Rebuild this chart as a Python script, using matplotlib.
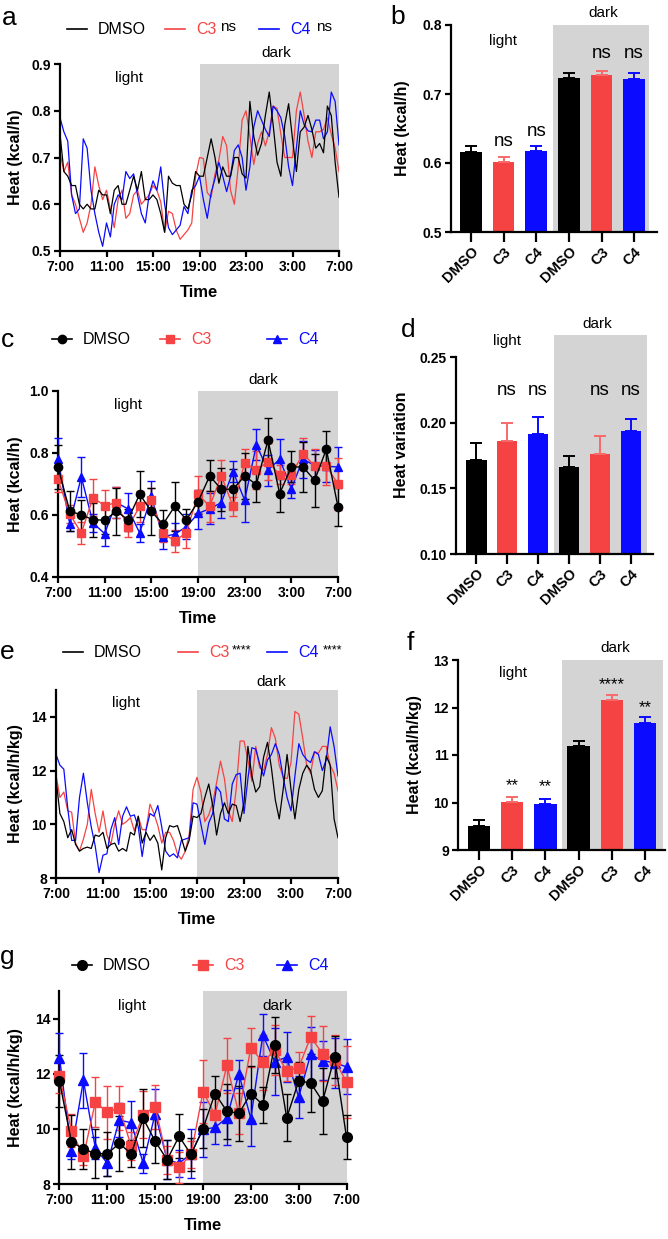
import numpy as np
import matplotlib
matplotlib.use('Agg')
import matplotlib.pyplot as plt
from matplotlib.lines import Line2D
from matplotlib.patches import Rectangle

plt.rcParams['font.family'] = ['Liberation Sans', 'DejaVu Sans']

W, H = 668, 1239
RED = '#f54343'
BLUE = '#0b0bff'
SHADE = '#d4d4d4'

# ---------------- data ----------------
time_ticks = [0, 4, 8, 12, 16, 20, 24]
time_labels = ['7:00', '11:00', '15:00', '19:00', '23:00', '3:00', '7:00']
groups = ['DMSO', 'C3', 'C4', 'DMSO', 'C3', 'C4']

# a: heat (kcal/h), one value every 20 min from 7:00 to 7:00
a_dmso = [0.75, 0.67, 0.66, 0.64, 0.64, 0.60, 0.59, 0.60, 0.59, 0.59, 0.63, 0.62, 0.62, 0.58, 0.63, 0.64,
          0.60, 0.60, 0.63, 0.66, 0.63, 0.67, 0.61, 0.61, 0.62, 0.61, 0.58, 0.54, 0.66, 0.645, 0.64, 0.64,
          0.60, 0.59, 0.62, 0.67, 0.66,
          0.66, 0.70, 0.74, 0.70, 0.645, 0.68, 0.66, 0.66, 0.70, 0.70, 0.665, 0.656, 0.82, 0.745, 0.705,
          0.73, 0.79, 0.84, 0.77, 0.69, 0.66, 0.77, 0.815, 0.74, 0.67, 0.755, 0.765, 0.79, 0.76, 0.72,
          0.73, 0.71, 0.81, 0.79, 0.69, 0.615]
a_c3 = [0.71, 0.67, 0.69, 0.62, 0.60, 0.57, 0.54, 0.56, 0.60, 0.68, 0.64, 0.61, 0.63, 0.59, 0.55, 0.61,
        0.63, 0.57, 0.58, 0.62, 0.63, 0.60, 0.61, 0.62, 0.64, 0.63, 0.605, 0.54, 0.585, 0.58, 0.545, 0.525,
        0.535, 0.545, 0.56, 0.66, 0.70,
        0.698, 0.625, 0.615, 0.665, 0.695, 0.745, 0.725, 0.63, 0.60, 0.68, 0.78, 0.80, 0.745, 0.685, 0.73,
        0.755, 0.725, 0.755, 0.81, 0.805, 0.75, 0.70, 0.70, 0.70, 0.80, 0.84, 0.79, 0.735, 0.70, 0.755,
        0.755, 0.76, 0.785, 0.75, 0.72, 0.67]
a_c4 = [0.785, 0.755, 0.735, 0.62, 0.58, 0.59, 0.74, 0.72, 0.63, 0.58, 0.54, 0.51, 0.56, 0.53, 0.60, 0.62,
        0.61, 0.67, 0.655, 0.665, 0.62, 0.58, 0.56, 0.62, 0.65, 0.63, 0.68, 0.60, 0.55, 0.535, 0.545, 0.555,
        0.595, 0.58, 0.63, 0.64, 0.66,
        0.61, 0.57, 0.625, 0.655, 0.69, 0.66, 0.627, 0.66, 0.715, 0.727, 0.70, 0.63, 0.68, 0.765, 0.80,
        0.78, 0.76, 0.745, 0.81, 0.80, 0.785, 0.745, 0.68, 0.64, 0.72, 0.80, 0.77, 0.757, 0.755, 0.78,
        0.78, 0.74, 0.755, 0.84, 0.82, 0.727]

# b: mean heat (kcal/h) light / dark
b_mean = [0.616, 0.601, 0.617, 0.723, 0.727, 0.722]
b_err = [0.008, 0.007, 0.007, 0.008, 0.007, 0.008]

# c: hourly heat (kcal/h) mean +/- sem
c_dmso = [0.755, 0.613, 0.600, 0.585, 0.583, 0.612, 0.585, 0.667, 0.612, 0.570, 0.628, 0.585, 0.642,
          0.726, 0.683, 0.683, 0.726, 0.698, 0.842, 0.669, 0.755, 0.755, 0.712, 0.812, 0.626]
c_dmso_err = [0.07, 0.065, 0.05, 0.055, 0.045, 0.075, 0.035, 0.075, 0.075, 0.045, 0.08, 0.035, 0.04,
              0.05, 0.07, 0.065, 0.075, 0.055, 0.07, 0.06, 0.05, 0.08, 0.085, 0.06, 0.06]
c_c3 = [0.715, 0.603, 0.542, 0.656, 0.63, 0.64, 0.56, 0.628, 0.647, 0.542, 0.516, 0.543, 0.667,
        0.628, 0.727, 0.628, 0.768, 0.745, 0.772, 0.73, 0.73, 0.798, 0.758, 0.758, 0.70]
c_c3_err = [0.04, 0.03, 0.035, 0.06, 0.05, 0.05, 0.03, 0.05, 0.04, 0.03, 0.035, 0.05, 0.06,
            0.05, 0.05, 0.03, 0.045, 0.06, 0.06, 0.03, 0.03, 0.05, 0.055, 0.06, 0.085]
c_c4 = [0.78, 0.572, 0.723, 0.574, 0.54, 0.64, 0.62, 0.542, 0.66, 0.53, 0.538, 0.562, 0.605,
        0.62, 0.64, 0.74, 0.648, 0.826, 0.745, 0.78, 0.685, 0.78, 0.76, 0.757, 0.755]
c_c4_err = [0.07, 0.025, 0.065, 0.03, 0.04, 0.05, 0.05, 0.03, 0.05, 0.04, 0.035, 0.04, 0.05,
            0.05, 0.05, 0.035, 0.07, 0.05, 0.05, 0.065, 0.03, 0.06, 0.05, 0.05, 0.065]

# d: heat variation
d_mean = [0.1714, 0.186, 0.1915, 0.1664, 0.176, 0.1936]
d_err = [0.0133, 0.0137, 0.013, 0.0086, 0.0137, 0.0094]

# e: heat (kcal/h/kg), every 20 min
e_dmso = [11.7, 10.4, 10.1, 9.5, 9.8, 9.25, 9.0, 9.1, 9.15, 9.1, 9.6, 9.55, 9.7, 9.1, 9.25, 9.3, 9.0,
          9.1, 9.0, 9.7, 9.6, 10.3, 9.3, 9.7, 9.4, 9.6, 9.3, 8.3, 9.5, 9.95, 9.9, 9.95, 9.5, 9.0, 9.4,
          10.3, 10.25,
          10.4, 11.0, 11.5, 10.7, 9.6, 10.4, 10.8, 10.4, 10.75, 10.7, 10.1, 10.8, 12.9, 11.8, 11.2, 11.4,
          12.5, 13.05, 12.1, 10.9, 10.2, 11.3, 12.6, 11.3, 10.2, 11.3, 11.9, 12.2, 12.0, 11.3, 11.0,
          11.25, 12.55, 12.2, 10.2, 9.5]
e_c3 = [11.85, 11.0, 11.2, 10.5, 10.45, 9.3, 9.0, 9.45, 10.0, 11.3, 10.4, 9.7, 10.5, 9.6, 9.25, 10.0,
        10.5, 10.0, 10.1, 10.25, 9.75, 10.3, 9.8, 9.8, 10.75, 10.4, 9.95, 9.3, 9.7, 9.7, 9.4, 8.9, 8.7,
        9.0, 9.6, 11.3, 11.75,
        11.2, 10.1, 10.35, 10.8, 11.55, 12.35, 11.7, 10.5, 10.1, 11.3, 13.1, 13.1, 12.4, 11.6, 12.9,
        12.1, 12.0, 12.6, 13.6, 13.2, 12.2, 11.75, 11.7, 12.3, 14.2, 14.1, 13.2, 12.2, 11.9, 12.7,
        12.65, 12.9, 12.9, 12.2, 11.9, 11.25]
e_c4 = [12.6, 12.2, 12.05, 10.6, 9.4, 9.4, 11.0, 11.9, 10.8, 9.9, 9.2, 8.2, 8.85, 8.9, 9.8, 10.25,
        9.25, 10.3, 10.65, 10.3, 10.35, 9.9, 8.8, 9.8, 10.4, 10.3, 10.7, 9.9, 9.0, 8.8, 8.9, 8.75, 9.4,
        9.45, 9.5, 10.8, 10.75,
        10.0, 9.25, 10.05, 10.4, 11.4, 11.2, 10.2, 10.1, 11.5, 11.85, 11.9, 10.4, 11.7, 12.85, 12.8,
        12.25, 11.8, 12.4, 12.6, 13.0, 12.6, 11.75, 11.0, 10.5, 11.8, 13.0, 12.6, 12.4, 12.3, 12.7,
        12.6, 12.0, 12.4, 13.63, 12.9, 11.8]

# f: mean heat (kcal/h/kg)
f_mean = [9.51, 10.02, 9.97, 11.18, 12.15, 11.67]
f_err = [0.12, 0.10, 0.10, 0.12, 0.12, 0.12]

# g: hourly heat (kcal/h/kg) mean +/- sem
g_dmso = [11.73, 9.52, 9.28, 9.1, 9.1, 9.47, 9.1, 10.38, 9.55, 8.88, 9.73, 9.07, 10.01, 11.28, 10.64,
          10.56, 11.28, 10.88, 13.04, 10.4, 11.73, 11.67, 11.0, 12.6, 9.7]
g_dmso_err = [0.95, 0.98, 0.72, 0.9, 0.8, 1.0, 0.5, 1.05, 0.8, 0.7, 0.8, 0.6, 0.7, 0.65, 1.0, 1.0,
              1.0, 0.65, 1.0, 0.85, 0.7, 1.05, 1.2, 0.75, 0.8]
g_c3 = [11.9, 9.94, 9.0, 10.98, 10.6, 10.76, 9.37, 10.52, 10.8, 8.88, 8.6, 9.07, 11.35, 10.52, 12.3,
        10.56, 12.95, 12.42, 12.85, 12.1, 12.22, 13.33, 12.73, 12.5, 11.7]
g_c3_err = [0.6, 0.6, 0.3, 0.9, 0.95, 0.8, 0.5, 0.85, 0.8, 0.5, 0.55, 0.5, 1.15, 0.6, 1.0, 0.75, 0.7,
            1.0, 0.9, 0.35, 0.55, 0.75, 1.0, 0.9, 1.3]
g_c4 = [12.58, 9.2, 11.76, 9.3, 8.75, 10.32, 10.22, 8.75, 10.55, 8.88, 8.75, 9.1, 9.98, 10.05, 10.4,
        12.0, 10.37, 13.4, 12.44, 12.6, 11.15, 12.7, 12.47, 12.4, 12.25]
g_c4_err = [0.9, 0.3, 1.0, 0.4, 0.45, 0.6, 0.8, 0.35, 0.9, 0.7, 0.5, 0.9, 1.0, 0.6, 1.0, 0.5, 1.0,
            0.75, 1.2, 0.9, 0.75, 1.0, 0.7, 0.9, 1.0]

t20 = np.arange(len(a_dmso)) / 3.0   # hours since 7:00
t1h = np.arange(len(c_dmso))

# ---------------- figure ----------------
fig = plt.figure(figsize=(W / 100, H / 100), dpi=100)


def px_axes(left, top, right, bottom):
    return fig.add_axes([left / W, 1 - bottom / H, (right - left) / W, (bottom - top) / H])


def ftext(x, y, s, **kw):
    kw.setdefault('ha', 'center')
    kw.setdefault('va', 'center')
    fig.text(x / W, 1 - y / H, s, **kw)


def style(ax):
    for s in ['top', 'right']:
        ax.spines[s].set_visible(False)
    for s in ['left', 'bottom']:
        ax.spines[s].set_linewidth(1.6)
    ax.tick_params(width=1.6, length=4.5, pad=2)


def time_axes(ax, ylim, yticks, ylabels, ylabel, box):
    style(ax)
    ax.axvspan(12, 24, color=SHADE, lw=0, zorder=0)
    ax.set_xlim(0, 24)
    ax.set_ylim(*ylim)
    ax.set_xticks(time_ticks, time_labels, fontweight='bold', fontsize=10)
    ax.set_yticks(yticks, ylabels, fontweight='bold', fontsize=10)
    ax.set_xlabel('Time', fontweight='bold', fontsize=12)
    ax.set_ylabel(ylabel, fontweight='bold', fontsize=11.5)
    left, top, right, bottom = box
    ax.yaxis.set_label_coords(-(left - 23) / (right - left), 0.5)
    ax.xaxis.set_label_coords(0.5, -34 / (bottom - top))


def bar_axes(ax, means, errs, ylim, yticks, ylabels, ylabel, xlim, shade_right, box, ytop=None):
    style(ax)
    x = np.arange(len(means))
    colors = ['black', RED, BLUE] * 2
    cap_colors = ['black', '#f76a6a', BLUE] * 2
    ax.bar(x, means, width=0.67, color=colors, zorder=2)
    for xi, m, e, c in zip(x, means, errs, cap_colors):
        ax.errorbar(xi, m, yerr=[[0], [e]], color=c, capsize=4, elinewidth=1.4,
                    capthick=1.4, zorder=3)
    top = ytop if ytop is not None else ylim[1]
    ax.add_patch(Rectangle((2.5, ylim[0]), shade_right - 2.5, top - ylim[0],
                           color=SHADE, lw=0, zorder=0, clip_on=False))
    ax.set_xlim(*xlim)
    ax.set_ylim(ylim[0], top)
    ax.spines['left'].set_bounds(ylim[0], ylim[1])
    ax.set_yticks(yticks, ylabels, fontweight='bold', fontsize=10)
    ax.set_xticks(x, groups, rotation=45, ha='right', rotation_mode='anchor',
                  fontweight='bold', fontsize=10.5)
    ax.tick_params(axis='x', length=7)
    ax.set_ylabel(ylabel, fontweight='bold', fontsize=11.5)
    left, t, right, bottom, lab_x = box
    ax.yaxis.set_label_coords(-(left - lab_x) / (right - left), 0.5)


def series(ax, t, y, err, color, marker, ms):
    ax.errorbar(t, y, yerr=err, color=color, marker=marker, ms=ms, lw=1.0, elinewidth=1.0,
                capsize=3, capthick=1.0, clip_on=False, zorder=3)


# ---- a ----
box_a = (60, 64, 339, 251)
ax = px_axes(*box_a)
ax.plot(t20, a_dmso, color='black', lw=0.9, zorder=3)
ax.plot(t20, a_c3, color=RED, lw=0.9, zorder=2)
ax.plot(t20, a_c4, color=BLUE, lw=0.9, zorder=2)
time_axes(ax, (0.5, 0.9), [0.5, 0.6, 0.7, 0.8, 0.9], ['0.5', '0.6', '0.7', '0.8', '0.9'],
          'Heat (kcal/h)', box_a)

# ---- b ----
box_b = (451, 25, 657, 232, 410)
ax = px_axes(*box_b[:4])
bar_axes(ax, b_mean, b_err, (0.5, 0.8), [0.5, 0.6, 0.7, 0.8], ['0.5', '0.6', '0.7', '0.8'],
         'Heat (kcal/h)', (-0.61, 5.7), 5.46, box_b)
for i, yv in zip([1, 2, 4, 5], [0.631, 0.646, 0.759, 0.759]):
    ax.text(i, yv, 'ns', ha='center', va='center', fontsize=13.5)

# ---- c ----
box_c = (58, 391, 338, 577)
ax = px_axes(*box_c)
series(ax, t1h, c_c4, c_c4_err, BLUE, '^', 6)
series(ax, t1h, c_c3, c_c3_err, RED, 's', 5.5)
series(ax, t1h, c_dmso, c_dmso_err, 'black', 'o', 6)
time_axes(ax, (0.4, 1.0), [0.4, 0.6, 0.8, 1.0], ['0.4', '0.6', '0.8', '1.0'],
          'Heat (kcal/h)', box_c)

# ---- d ----
box_d = (456, 335, 653, 554, 409)
ax = px_axes(*box_d[:4])
bar_axes(ax, d_mean, d_err, (0.10, 0.25), [0.10, 0.15, 0.20, 0.25], ['0.10', '0.15', '0.20', '0.25'],
         'Heat variation', (-0.65, 5.71), 5.52, box_d, ytop=0.267)
for i in [1, 2, 4, 5]:
    ax.text(i, 0.225, 'ns', ha='center', va='center', fontsize=13.5)

# ---- e ----
box_e = (56, 690, 338, 878)
ax = px_axes(*box_e)
ax.plot(t20, e_dmso, color='black', lw=0.9, zorder=3)
ax.plot(t20, e_c3, color=RED, lw=0.9, zorder=2)
ax.plot(t20, e_c4, color=BLUE, lw=0.9, zorder=2)
time_axes(ax, (8, 15), [8, 10, 12, 14], ['8', '10', '12', '14'], 'Heat (kcal/h/kg)', box_e)

# ---- f ----
box_f = (458, 660, 665, 850, 422)
ax = px_axes(*box_f[:4])
bar_axes(ax, f_mean, f_err, (9, 13), [9, 10, 11, 12, 13], ['9', '10', '11', '12', '13'],
         'Heat (kcal/h/kg)', (-0.63, 5.6), 5.55, box_f)
for i, s, yv in zip([1, 2, 4, 5], ['**', '**', '****', '**'], [10.2, 10.17, 12.33, 11.85]):
    ax.text(i, yv, s, ha='center', va='bottom', fontsize=12)

# ---- g ----
box_g = (59.5, 991, 346.5, 1184)
ax = px_axes(*box_g)
series(ax, t1h, g_c4, g_c4_err, BLUE, '^', 6.5)
series(ax, t1h, g_c3, g_c3_err, RED, 's', 6.5)
series(ax, t1h, g_dmso, g_dmso_err, 'black', 'o', 7)
time_axes(ax, (8, 15), [8, 10, 12, 14], ['8', '10', '12', '14'], 'Heat (kcal/h/kg)', box_g)

# ---- light / dark labels ----
for x, y, s in [(129, 78, 'light'), (276, 53, 'dark'), (503, 41, 'light'), (603, 13, 'dark'),
                (128, 405, 'light'), (263, 380, 'dark'), (507, 341, 'light'), (597, 324, 'dark'),
                (126, 703, 'light'), (271, 682, 'dark'), (513, 673, 'light'), (615, 648, 'dark'),
                (132, 1006, 'light'), (277, 1006, 'dark')]:
    ftext(x, y, s, fontsize=11)

# ---- panel letters ----
for x, y, s in [(9, 18, 'a'), (398, 17, 'b'), (8, 340, 'c'), (408, 330, 'd'),
                (7, 652, 'e'), (410, 643, 'f'), (7, 957, 'g')]:
    ftext(x, y, s, fontsize=19)


# ---- legends ----
def leg_item(x0, y, color, label, marker=None, ms=6, extra=None):
    fig.add_artist(Line2D([x0 / W, (x0 + 20) / W], [1 - y / H] * 2, color=color, lw=1.2))
    if marker:
        fig.add_artist(Line2D([(x0 + 10) / W], [1 - y / H], color=color, marker=marker, ms=ms, ls='none'))
    ftext(x0 + 31, y, label, color=color, fontsize=11.5, ha='left')
    if extra:
        ftext(extra[0], y - 2, extra[1], fontsize=extra[2], ha='left')


leg_item(67, 29, 'black', 'DMSO')
leg_item(165, 29, RED, 'C3', extra=(220, 'ns', 11))
leg_item(259, 29, BLUE, 'C4', extra=(316, 'ns', 11))

leg_item(52, 339, 'black', 'DMSO', 'o', 6)
leg_item(160, 339, RED, 'C3', 's', 6)
leg_item(267, 339, BLUE, 'C4', '^', 6)

leg_item(63, 652, 'black', 'DMSO')
leg_item(178, 652, RED, 'C3', extra=(232, '****', 9))
leg_item(267, 652, BLUE, 'C4', extra=(323, '****', 9))

leg_item(72, 965, 'black', 'DMSO', 'o', 7)
leg_item(193, 965, RED, 'C3', 's', 7)
leg_item(277, 965, BLUE, 'C4', '^', 7)

fig.savefig('out.png', dpi=100)
